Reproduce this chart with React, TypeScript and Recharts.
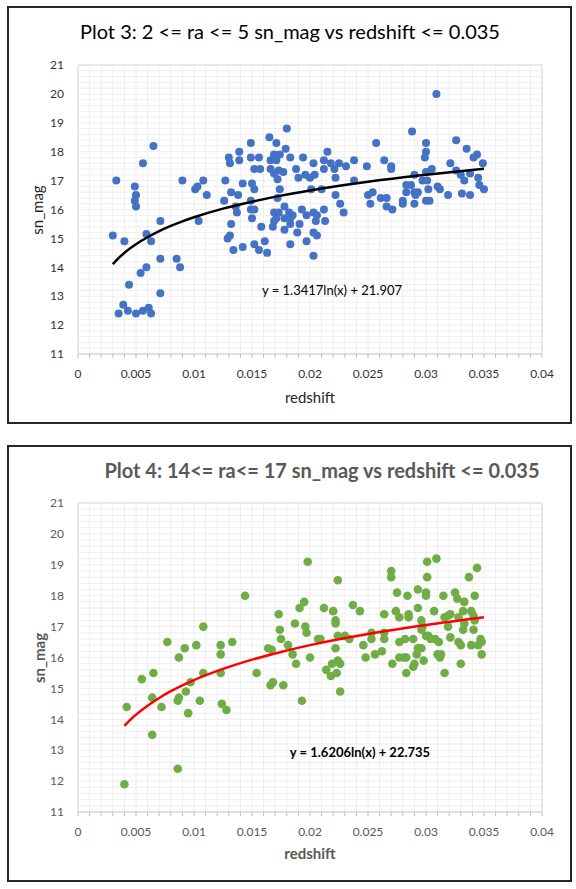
import { ScatterChart, Scatter, XAxis, YAxis, CartesianGrid } from "recharts";

// Plot 3: 2 <= ra <= 5
const plot3Redshift = [
  0.0033, 0.003, 0.004, 0.0035, 0.0039, 0.0043, 0.0044, 0.005, 0.0049, 0.005,
  0.0049, 0.005, 0.0056, 0.0065, 0.0054, 0.0059, 0.0059, 0.0063, 0.0056, 0.0061,
  0.0063, 0.0071, 0.0071, 0.0071, 0.0085, 0.0088, 0.009, 0.0101, 0.0103, 0.0108,
  0.0111, 0.0104, 0.0127, 0.0126, 0.013, 0.0131, 0.0139, 0.0139, 0.0132, 0.0138,
  0.0142, 0.0136, 0.0137, 0.0132, 0.0131, 0.0129, 0.0134, 0.0142,
  0.018, 0.0165, 0.0171, 0.0149, 0.0179, 0.0174, 0.0169, 0.0149, 0.0156, 0.0166,
  0.0171, 0.0183, 0.0194, 0.0215, 0.0203, 0.0212, 0.0218, 0.0225, 0.0238, 0.0257,
  0.0264, 0.027, 0.0249, 0.0152, 0.0157, 0.0166, 0.0169, 0.0173, 0.0177, 0.0188,
  0.0196, 0.0204, 0.0212, 0.0221, 0.0231, 0.019, 0.02, 0.0172, 0.0222, 0.0238,
  0.027, 0.015, 0.0152, 0.0174, 0.0201, 0.021, 0.0172, 0.0222, 0.0226, 0.0229,
  0.025, 0.0254, 0.0252, 0.0261, 0.0266, 0.0266, 0.0271, 0.0149, 0.0149, 0.0152,
  0.015, 0.0169, 0.0173, 0.0178, 0.0182, 0.0185, 0.0193, 0.0197, 0.0203, 0.0206,
  0.0212, 0.0213, 0.0171, 0.0178, 0.0183, 0.0169, 0.0205, 0.0183, 0.0168, 0.0158,
  0.0191, 0.0178, 0.0189, 0.0203, 0.0206, 0.0152, 0.0161, 0.0156, 0.0163, 0.0183,
  0.0197, 0.0203,
  0.0288, 0.03, 0.03, 0.0299, 0.0309, 0.0326, 0.0335, 0.0344, 0.0341, 0.0321,
  0.0349, 0.0326, 0.0305, 0.03, 0.029, 0.033, 0.0338, 0.0345, 0.0333, 0.0297,
  0.0301, 0.0346, 0.035, 0.031, 0.0312, 0.0302, 0.0283, 0.0283, 0.0287, 0.029,
  0.0293, 0.0291, 0.0319, 0.0331, 0.0338, 0.028, 0.028, 0.029, 0.03, 0.0303,
];
const plot3Mag = [
  17.0, 15.1, 14.9, 12.4, 12.7, 12.5, 13.4, 12.4, 16.8, 16.5,
  16.3, 16.1, 17.6, 18.2, 13.8, 14.0, 15.15, 14.9, 12.5, 12.6,
  12.4, 15.6, 14.3, 13.1, 14.3, 14.0, 17.0, 16.7, 16.8, 17.0,
  16.5, 15.6, 17.0, 16.3, 17.8, 17.6, 18.0, 17.7, 16.6, 16.5,
  16.9, 16.1, 15.9, 15.5, 15.1, 15.0, 14.6, 14.7,
  18.8, 18.5, 18.3, 18.3, 18.1, 17.9, 17.9, 17.8, 17.8, 17.7,
  17.7, 17.8, 17.8, 18.0, 17.6, 17.7, 17.6, 17.6, 17.7, 18.3,
  17.7, 17.5, 17.5, 17.4, 17.4, 17.4, 17.25, 17.35, 17.3, 17.4,
  17.2, 17.2, 17.4, 17.4, 17.5, 17.1, 17.1, 17.05, 17.1, 17.0,
  17.4, 16.9, 16.7, 16.7, 16.7, 16.7, 16.4, 16.5, 16.2, 15.9,
  16.5, 16.6, 16.2, 16.4, 16.4, 16.1, 16.0, 16.3, 16.0, 16.0,
  15.7, 15.9, 15.9, 16.1, 15.9, 15.8, 16.0, 15.8, 15.9, 15.8,
  16.0, 15.6, 15.7, 15.7, 15.7, 15.6, 15.6, 15.5, 15.4, 15.4,
  15.5, 15.3, 15.2, 15.2, 15.1, 14.8, 14.9, 14.6, 14.5, 14.8,
  14.9, 14.4,
  18.7, 18.3, 18.0, 17.8, 20.0, 18.4, 18.1, 17.9, 17.8, 17.6,
  17.6, 17.35, 17.4, 17.3, 17.2, 17.2, 17.25, 17.1, 17.0, 17.0,
  17.0, 16.85, 16.7, 16.8, 16.7, 16.7, 16.85, 16.6, 16.85, 16.6,
  16.6, 16.5, 16.5, 16.55, 16.5, 16.3, 16.2, 16.2, 16.3, 16.3,
];
// trendline as drawn on plot 3
const trend3Redshift = [0.003, 0.0035, 0.004, 0.0045, 0.005, 0.006, 0.007, 0.008, 0.009, 0.01, 0.0125, 0.015, 0.0175, 0.02, 0.025, 0.03, 0.035];
const trend3Mag = [14.11, 14.32, 14.5, 14.66, 14.8, 15.04, 15.25, 15.43, 15.59, 15.73, 16.03, 16.27, 16.48, 16.66, 16.96, 17.2, 17.41];

// Plot 4: 14 <= ra <= 17
const plot4Redshift = [
  0.004, 0.0086, 0.0042, 0.0064, 0.0055, 0.0065, 0.0064, 0.0072, 0.0077, 0.0087,
  0.0092, 0.0102, 0.0108, 0.0108, 0.0097, 0.0093, 0.0087, 0.0086, 0.0095, 0.0105,
  0.0123, 0.0123, 0.0123, 0.0124, 0.0128, 0.0133, 0.0144, 0.0154, 0.0164, 0.0167,
  0.0166, 0.0168, 0.0173, 0.0174, 0.0175, 0.0177, 0.0181, 0.0185, 0.0188, 0.0187,
  0.0191, 0.0195, 0.0198, 0.0196, 0.0197, 0.02, 0.0193, 0.0207,
  0.0224, 0.0212, 0.022, 0.0222, 0.0222, 0.0237, 0.0243, 0.0209, 0.0224, 0.023,
  0.0234, 0.0222, 0.0214, 0.0219, 0.0224, 0.0226, 0.0218, 0.0223, 0.0226, 0.0246,
  0.0248, 0.0253, 0.0253, 0.0256, 0.0262, 0.0264, 0.0264, 0.0264, 0.027, 0.027,
  0.0275, 0.0284, 0.0274, 0.0277, 0.0285, 0.0285, 0.0293, 0.0293, 0.0296, 0.0297,
  0.03, 0.03, 0.0301, 0.0301, 0.0309, 0.0307, 0.0315, 0.0296, 0.03, 0.0302,
  0.0304, 0.0308, 0.0311, 0.0277, 0.0282, 0.0289, 0.0277, 0.0281, 0.0283, 0.0271,
  0.0283, 0.0289, 0.029, 0.0292, 0.0293, 0.0296, 0.0298, 0.031, 0.0312, 0.0313,
  0.0316, 0.0316, 0.0319, 0.0319, 0.0321, 0.0321, 0.0325, 0.0327, 0.0333, 0.0337,
  0.0344, 0.0342, 0.0328, 0.0332, 0.0333, 0.0332, 0.0339, 0.0341, 0.0342, 0.0341,
  0.0328, 0.033, 0.0339, 0.033, 0.0345, 0.0347, 0.0348, 0.0348,
];
const plot4Mag = [
  11.9, 12.4, 14.4, 13.5, 15.3, 15.5, 14.7, 14.4, 16.5, 16.0,
  16.3, 16.4, 17.0, 15.5, 15.2, 14.9, 14.7, 14.6, 14.2, 14.6,
  16.4, 16.1, 15.5, 14.5, 14.3, 16.5, 18.0, 15.5, 16.3, 16.25,
  15.1, 15.2, 17.4, 16.9, 16.6, 15.1, 16.4, 16.1, 15.8, 17.1,
  17.6, 17.8, 19.1, 17.0, 16.8, 16.0, 14.6, 16.6,
  18.5, 17.6, 17.5, 17.2, 17.1, 17.7, 17.5, 16.6, 16.7, 16.7,
  16.6, 16.3, 15.6, 15.8, 15.9, 15.8, 15.4, 15.5, 14.9, 16.4,
  16.0, 16.8, 16.6, 16.1, 16.2, 17.4, 16.8, 16.6, 18.8, 18.6,
  18.1, 18.0, 17.5, 17.3, 17.4, 17.3, 18.2, 17.6, 17.2, 17.0,
  18.1, 18.0, 18.6, 19.1, 19.2, 17.5, 18.0, 16.9, 16.7, 16.7,
  16.6, 16.6, 16.5, 16.5, 16.6, 16.6, 16.0, 16.0, 16.0, 15.8,
  15.5, 15.7, 15.8, 16.1, 16.3, 16.3, 15.9, 16.1, 16.0, 16.1,
  15.5, 17.3, 17.35, 17.0, 17.4, 16.65, 18.1, 17.9, 17.8, 18.6,
  18.9, 18.0, 17.3, 17.5, 17.1, 16.9, 17.5, 17.35, 17.2, 16.9,
  16.5, 16.4, 16.4, 15.8, 16.4, 16.6, 16.5, 16.1,
];
// trendline as drawn on plot 4
const trend4Redshift = [0.004, 0.0045, 0.005, 0.006, 0.007, 0.008, 0.009, 0.01, 0.0125, 0.015, 0.0175, 0.02, 0.025, 0.03, 0.035];
const trend4Mag = [13.79, 13.98, 14.15, 14.44, 14.69, 14.91, 15.1, 15.27, 15.63, 15.93, 16.18, 16.4, 16.76, 17.05, 17.3];

// axis ticks
const xMajor = [0, 0.005, 0.01, 0.015, 0.02, 0.025, 0.03, 0.035, 0.04];
const yMajor = [11, 12, 13, 14, 15, 16, 17, 18, 19, 20, 21];

const subdivide = (major: number[], parts: number) => {
  const out: number[] = [];
  for (let i = 0; i < major.length - 1; i++) {
    const step = (major[i + 1] - major[i]) / parts;
    for (let k = 0; k < parts; k++) out.push(major[i] + k * step);
  }
  out.push(major[major.length - 1]);
  return out;
};
const xMinor = subdivide(xMajor, 5);
const yMinor = subdivide(yMajor, 5);

const toPoints = (xs: number[], ys: number[]) => xs.map((x, i) => ({ x, y: ys[i] }));

const isMajor = (v: number, list: number[]) => list.some((m) => Math.abs(m - v) < 1e-9);

function Panel({ top, height, margin, points, trend, dotColor, dotR, lineColor, tickColor }: any) {
  return (
    <div style={{ position: "absolute", left: 0, top }}>
      <ScatterChart width={576} height={height} margin={margin}>
        <XAxis xAxisId="maj" type="number" dataKey="x" domain={[0, 0.04]} ticks={xMajor} hide />
        <YAxis yAxisId="maj" type="number" dataKey="y" domain={[11, 21]} ticks={yMajor} hide />
        <CartesianGrid stroke="#eeeeee" strokeWidth={1} />
        <CartesianGrid xAxisId="maj" yAxisId="maj" stroke="#d9d9d9" strokeWidth={1} />
        <XAxis
          type="number"
          dataKey="x"
          domain={[0, 0.04]}
          ticks={xMinor}
          interval={0}
          height={30}
          tickSize={4}
          tickMargin={11}
          tickLine={{ stroke: "#bfbfbf" }}
          axisLine={{ stroke: "#d9d9d9" }}
          tick={{ fill: tickColor, fontSize: 12 }}
          tickFormatter={(v: number) =>
            isMajor(v, xMajor) ? String(Math.round(v * 1000) / 1000) : ""
          }
        />
        <YAxis
          type="number"
          dataKey="y"
          domain={[11, 21]}
          ticks={yMinor}
          interval={0}
          width={40}
          tickSize={0}
          tickMargin={14}
          tickLine={false}
          axisLine={false}
          tick={{ fill: tickColor, fontSize: 12 }}
          tickFormatter={(v: number) => (isMajor(v, yMajor) ? String(Math.round(v)) : "")}
        />
        <Scatter
          data={points}
          isAnimationActive={false}
          shape={(p: any) => <circle cx={p.cx} cy={p.cy} r={dotR} fill={dotColor} />}
        />
        <Scatter
          data={trend}
          isAnimationActive={false}
          line={{ stroke: lineColor, strokeWidth: 2.5 }}
          lineJointType="monotoneX"
          shape={() => <g />}
        />
      </ScatterChart>
    </div>
  );
}

export default function App() {
  return (
    <div
      style={{
        position: "absolute",
        left: 0,
        top: 0,
        width: 576,
        height: 889,
        background: "#fff",
        fontFamily: "Lato, 'Open Sans', sans-serif",
      }}
    >
      {/* frames */}
      <div style={{ position: "absolute", left: 7, top: 6, width: 565, height: 418, boxSizing: "border-box", border: "2px solid #262626" }} />
      <div style={{ position: "absolute", left: 7, top: 445, width: 565, height: 437, boxSizing: "border-box", border: "2px solid #262626" }} />

      <Panel
        top={0}
        height={430}
        margin={{ top: 65, right: 34, bottom: 46, left: 38 }}
        points={toPoints(plot3Redshift, plot3Mag)}
        trend={toPoints(trend3Redshift, trend3Mag)}
        dotColor="#4472C4"
        dotR={4}
        lineColor="#000000"
        tickColor="#333333"
      />
      <Panel
        top={440}
        height={449}
        margin={{ top: 63, right: 34, bottom: 47, left: 38 }}
        points={toPoints(plot4Redshift, plot4Mag)}
        trend={toPoints(trend4Redshift, trend4Mag)}
        dotColor="#70AD47"
        dotR={4.3}
        lineColor="#FF0000"
        tickColor="#595959"
      />

      {/* titles, axis titles, equations */}
      <svg width={576} height={889} style={{ position: "absolute", left: 0, top: 0, pointerEvents: "none" }}>
        <text x={290} y={39} textAnchor="middle" fontSize={20} fill="#000">
          Plot 3: 2 &lt;= ra &lt;= 5 sn_mag vs redshift &lt;= 0.035
        </text>
        <text x={310} y={397} textAnchor="middle" dominantBaseline="central" fontSize={15} fill="#262626">
          redshift
        </text>
        <text x={37} y={210} textAnchor="middle" dominantBaseline="central" fontSize={15} fill="#262626" transform="rotate(-90 37 210)">
          sn_mag
        </text>
        <text x={332} y={290} textAnchor="middle" dominantBaseline="central" fontSize={13} fill="#000">
          y = 1.3417ln(x) + 21.907
        </text>

        <text x={322} y={478} textAnchor="middle" fontSize={20} fontWeight="bold" fill="#595959">
          Plot 4: 14&lt;= ra&lt;= 17 sn_mag vs redshift &lt;= 0.035
        </text>
        <text x={310} y={853} textAnchor="middle" dominantBaseline="central" fontSize={15} fontWeight="bold" fill="#595959">
          redshift
        </text>
        <text x={39} y={658} textAnchor="middle" dominantBaseline="central" fontSize={15} fontWeight="bold" fill="#595959" transform="rotate(-90 39 658)">
          sn_mag
        </text>
        <text x={360} y={752} textAnchor="middle" dominantBaseline="central" fontSize={13} fontWeight="bold" fill="#000">
          y = 1.6206ln(x) + 22.735
        </text>
      </svg>
    </div>
  );
}
